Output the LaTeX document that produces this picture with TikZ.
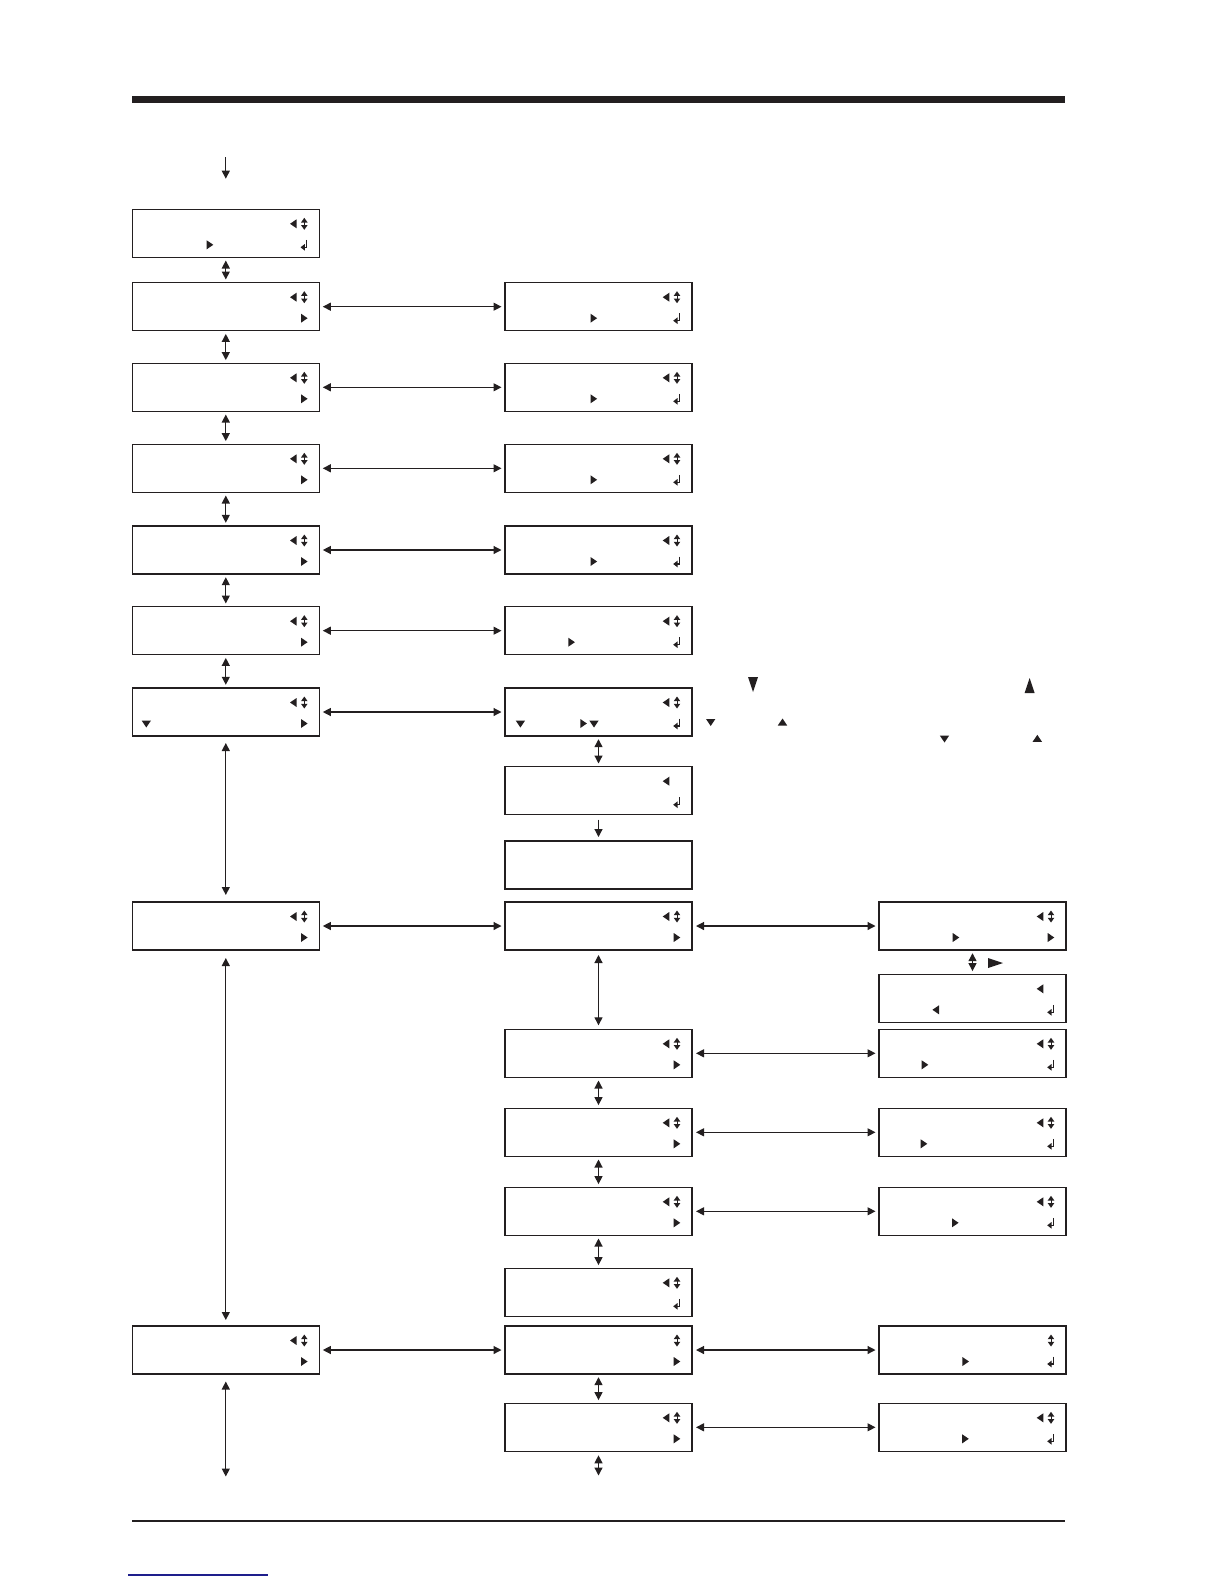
\documentclass[tikz,border=0pt]{standalone}
\usepackage{xcolor}
\usepackage{tikz}
\usetikzlibrary{positioning, arrows.meta, calc}

\definecolor{ink}{RGB}{35,31,32}
\definecolor{linkblue}{RGB}{30,30,140}

\begin{document}
\begin{tikzpicture}[
    x=0.5pt, y=-0.5pt,
    lcd/.style={rectangle, draw=ink, line width=0.7pt, minimum width=93.5pt, minimum height=24pt, inner sep=0pt, outer sep=0pt},
    dbl/.style={{Triangle[length=4pt,width=4pt]}-{Triangle[length=4pt,width=4pt]}, draw=ink, line width=0.6pt, shorten <=1.6pt, shorten >=1.6pt},
    arrow/.style={-{Triangle[length=4pt,width=4pt]}, draw=ink, line width=0.6pt},
    ltri/.pic={\fill[ink] (-3.3,0) -- (3.3,-4.5) -- (3.3,4.5) -- cycle;},
    rtri/.pic={\fill[ink] (3.3,0) -- (-3.3,-4.5) -- (-3.3,4.5) -- cycle;},
    dtri/.pic={\fill[ink] (-4.7,-3.5) -- (4.7,-3.5) -- (0,3.5) -- cycle;},
    utri/.pic={\fill[ink] (-4.7,3.5) -- (4.7,3.5) -- (0,-3.5) -- cycle;},
    updown/.pic={\fill[ink] (0,-6) -- (3.3,-1.3) -- (-3.3,-1.3) -- cycle;
        \fill[ink] (0,6) -- (3.3,1.3) -- (-3.3,1.3) -- cycle;
        \draw[ink, line width=0.35pt] (0,-1.5) -- (0,1.5);},
    ret/.pic={\draw[ink, line width=0.7pt] (2.3,-5) -- (2.3,2.5) -- (0,2.5);
        \fill[ink] (-3.8,2.5) -- (0.5,-0.8) -- (0.5,5.8) -- cycle;},
    bigdown/.pic={\fill[ink] (-5,-7.5) -- (5,-7.5) -- (0,7.5) -- cycle;},
    bigup/.pic={\fill[ink] (-5,7.5) -- (5,7.5) -- (0,-7.5) -- cycle;},
    bigright/.pic={\fill[ink] (7.5,0) -- (-7.5,-5) -- (-7.5,5) -- cycle;}
]
    \useasboundingbox (0,0) rectangle (1224,1584);

    % page rules
    \fill[ink] (132.3,96) rectangle (1065,103);
    \draw[ink, line width=1.25pt] (132.3,1521) -- (1065,1521);
    \draw[linkblue, line width=0.75pt] (128,1575) -- (268,1575);

    % left column
    \node[lcd] (lA) at (225.8,233.3) {};
    \node[lcd, below=12.7pt of lA] (lB) {};
    \node[lcd, below=16.3pt of lB] (lC) {};
    \node[lcd, below=16.5pt of lC] (lD) {};
    \node[lcd, below=16.85pt of lD] (lE) {};
    \node[lcd, below=16.35pt of lE] (lF) {};
    \node[lcd, below=16.65pt of lF] (lG) {};
    \node[lcd, below=83pt of lG] (lJ) {};
    \node[lcd, below=188pt of lJ] (lP) {};

    % middle column
    \node[lcd, right=92.85pt of lB] (mB) {};
    \node[lcd, right=92.85pt of lC] (mC) {};
    \node[lcd, right=92.85pt of lD] (mD) {};
    \node[lcd, right=92.85pt of lE] (mE) {};
    \node[lcd, right=92.85pt of lF] (mF) {};
    \node[lcd, right=92.85pt of lG] (mG) {};
    \node[lcd, below=15.35pt of mG] (mH) {};
    \node[lcd, below=13.15pt of mH] (mI) {};
    \node[lcd, right=92.85pt of lJ] (mJ) {};
    \node[lcd, below=39.65pt of mJ] (mL) {};
    \node[lcd, below=15.5pt of mL] (mM) {};
    \node[lcd, below=15.5pt of mM] (mN) {};
    \node[lcd, below=16.5pt of mN] (mO) {};
    \node[lcd, right=92.85pt of lP] (mP) {};
    \node[lcd, below=14.65pt of mP] (mQ) {};

    % right column
    \node[lcd, right=93.5pt of mJ] (rJ) {};
    \node[lcd, below=12.15pt of rJ] (rK) {};
    \node[lcd, right=93.5pt of mL] (rL) {};
    \node[lcd, right=93.5pt of mM] (rM) {};
    \node[lcd, right=93.5pt of mN] (rN) {};
    \node[lcd, right=93.5pt of mP] (rP) {};
    \node[lcd, right=93.5pt of mQ] (rQ) {};

    \coordinate (start) at (225.8,157.3);
    \coordinate (endl) at (225.8,1476.5);
    \coordinate (endm) at (598.5,1475.5);

    % connectors
    \draw[arrow, shorten >=15.3pt] (start) -- (lA);
    \foreach \a/\b in {lA/lB, lB/lC, lC/lD, lD/lE, lE/lF, lF/lG, mG/mH, mL/mM, mM/mN, mN/mO, mP/mQ, rJ/rK}
        \draw[dbl] (\a) -- (\b);
    \draw[dbl, shorten <=3.5pt, shorten >=3.5pt] (lG) -- (lJ);
    \draw[dbl, shorten <=4pt, shorten >=3pt] (lJ) -- (lP);
    \draw[dbl, shorten <=3.75pt, shorten >=0pt] (lP) -- (endl);
    \draw[arrow, shorten <=2.5pt, shorten >=2pt] (mH) -- (mI);
    \draw[dbl, shorten <=2.5pt, shorten >=2pt] (mJ) -- (mL);
    \draw[dbl, shorten <=2pt, shorten >=0pt] (mQ) -- (endm);
    \foreach \r in {B,C,D,E,F,G,J,P}
        \draw[dbl, shorten <=1.75pt, shorten >=1.75pt] (l\r) -- (m\r);
    \foreach \r in {J,L,M,N,P,Q}
        \draw[dbl, shorten <=2pt, shorten >=1.75pt] (m\r) -- (r\r);

    % display symbols, top line
    \foreach \n in {lA,lB,lC,lD,lE,lF,lG,lJ,lP,mB,mC,mD,mE,mF,mG,mH,mJ,mL,mM,mN,mO,mQ,rJ,rK,rL,rM,rN,rQ}
        \pic at ($(\n.north west)+(161,14.5)$) {ltri};
    \foreach \n in {lA,lB,lC,lD,lE,lF,lG,lJ,lP,mB,mC,mD,mE,mF,mG,mJ,mL,mM,mN,mO,mP,mQ,rJ,rL,rM,rN,rP,rQ}
        \pic at ($(\n.north west)+(172,14.5)$) {updown};

    % display symbols, bottom line
    \foreach \n in {lB,lC,lD,lE,lF,lG,lJ,lP,mJ,mL,mM,mN,mP,mQ,rJ}
        \pic at ($(\n.north west)+(172,35.5)$) {rtri};
    \foreach \n in {lA,mB,mC,mD,mE,mF,mG,mH,mO,rK,rL,rM,rN,rP,rQ}
        \pic at ($(\n.north west)+(172,35.5)$) {ret};
    \foreach \n/\x in {lA/77.7, mB/88.8, mC/88.8, mD/88.8, mE/88.8, mF/66.6, mG/78.6, rJ/77, rL/46, rM/45, rN/76.3, rP/86.7, rQ/86.5}
        \pic at ($(\n.north west)+(\x,35.5)$) {rtri};
    \pic at ($(rK.north west)+(56.7,35.5)$) {ltri};
    \foreach \n/\x in {lG/14, mG/15.4, mG/89}
        \pic at ($(\n.north west)+(\x,36)$) {dtri};

    % key marks beside the screens
    \pic at (753,684.5) {bigdown};
    \pic at (1029.6,685.5) {bigup};
    \pic at (710.7,722.5) {dtri};
    \pic at (782.5,722) {utri};
    \pic at (944.5,739) {dtri};
    \pic at (1037.3,738.3) {utri};
    \pic at (995.5,963) {bigright};
\end{tikzpicture}
\end{document}
